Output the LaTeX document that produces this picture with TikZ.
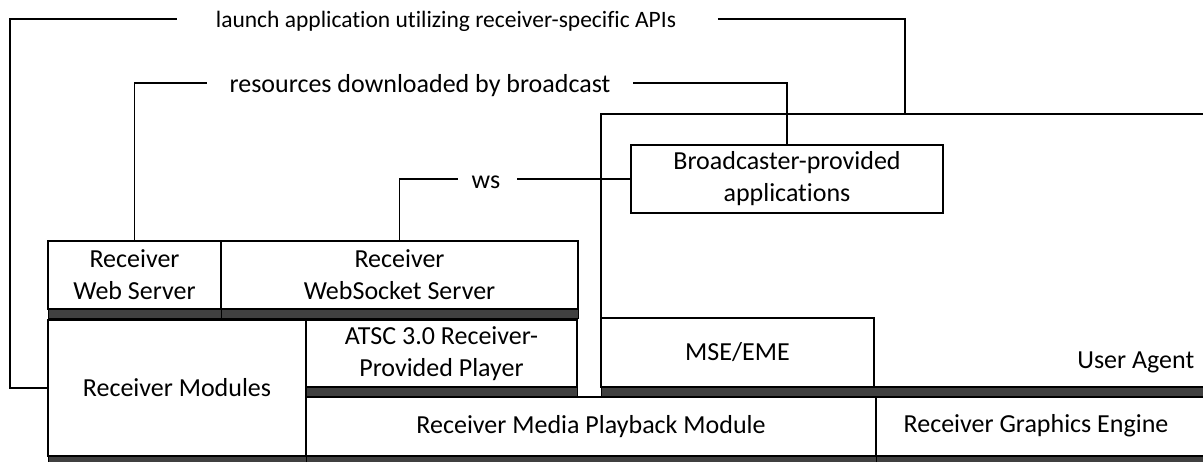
\documentclass[tikz,border=0pt]{standalone}
\usepackage{fontspec}
\setmainfont{Carlito}[Ligatures=NoCommon]
\definecolor{shadowgray}{HTML}{404040}
\begin{document}
\begin{tikzpicture}[x=1pt,y=-1pt,line width=1.6pt,
  every node/.style={font=\fontsize{26}{32}\selectfont},
  box/.style={draw,fill=white,align=center,inner sep=0pt,anchor=north west,outer sep=0pt},
  shad/.style={draw,line width=0.8pt,fill=shadowgray},
  lbl/.style={inner sep=0pt,anchor=base},
  txt/.style={inner sep=0pt,align=center}]
\useasboundingbox (0,0) rectangle (1203,461);
\clip (0,0) rectangle (1203,461);
% shadows
\draw[shad] (48,309) rectangle (221,318);
\draw[shad] (221,309) rectangle (578,318);
\draw[shad] (48,456) rectangle (306,470);
\draw[shad] (306,387) rectangle (577,396);
\draw[shad] (306,456) rectangle (876,470);
\draw[shad] (876,456) rectangle (1215,470);
\draw[shad] (601,387) rectangle (1215,396);
\draw[shad] (631,213) rectangle (943,222);
% user agent
\node[box,minimum width=614pt,minimum height=273pt] (ua) at (601,114) {};
\node[lbl,anchor=base east] (ualbl) at (1195,368) {User Agent};
\node[box,minimum width=273pt,minimum height=69pt] (mse) at (601,318) {MSE/EME};
\node[box,minimum width=312pt,minimum height=68pt] (bapp) at (631,145) {Broadcaster-provided\\applications};
% receiver boxes
\node[box,minimum width=173pt,minimum height=68pt] (wsv) at (48,241) {Receiver\\Web Server};
\node[box,minimum width=357pt,minimum height=68pt] (wss) at (221,241) {Receiver\\WebSocket Server};
\node[box,minimum width=258pt,minimum height=136pt] (mods) at (48,320) {Receiver Modules};
\node[box,minimum width=271pt,minimum height=67pt] (atsc) at (306,320) {ATSC 3.0 Receiver-\\Provided Player};
\node[box,minimum width=570pt,minimum height=59pt] (mpm) at (306,397) {Receiver Media Playback Module};
\node[box,minimum width=339pt,minimum height=59pt] (rge) at (876,397) {};
\node[txt] (rgelbl) at (1036,426) {Receiver Graphics Engine};
% labels
\node[lbl,font=\fontsize{23.5}{28}\selectfont] (launch) at (446,27) {launch application utilizing receiver-specific APIs};
\node[lbl] (res) at (420,92) {resources downloaded by broadcast};
\node[lbl] (ws) at (486,188) {ws};
\coordinate (lc) at (10,19);
\coordinate (uatop) at (905,114);
% connectors
\draw (mods.west) -| (lc) -- ([xshift=-38pt]launch.west|-lc);
\draw ([xshift=41pt]launch.east|-lc) -| (uatop);
\draw (wsv.north) |- ([xshift=-22pt,yshift=9pt]res.base west);
\draw ([xshift=22pt,yshift=9pt]res.base east) -| (bapp.north);
\draw (wss.north) |- ([xshift=-13pt,yshift=9pt]ws.base west);
\draw ([xshift=16pt,yshift=9pt]ws.base east) -- (bapp.west);
\end{tikzpicture}
\end{document}
